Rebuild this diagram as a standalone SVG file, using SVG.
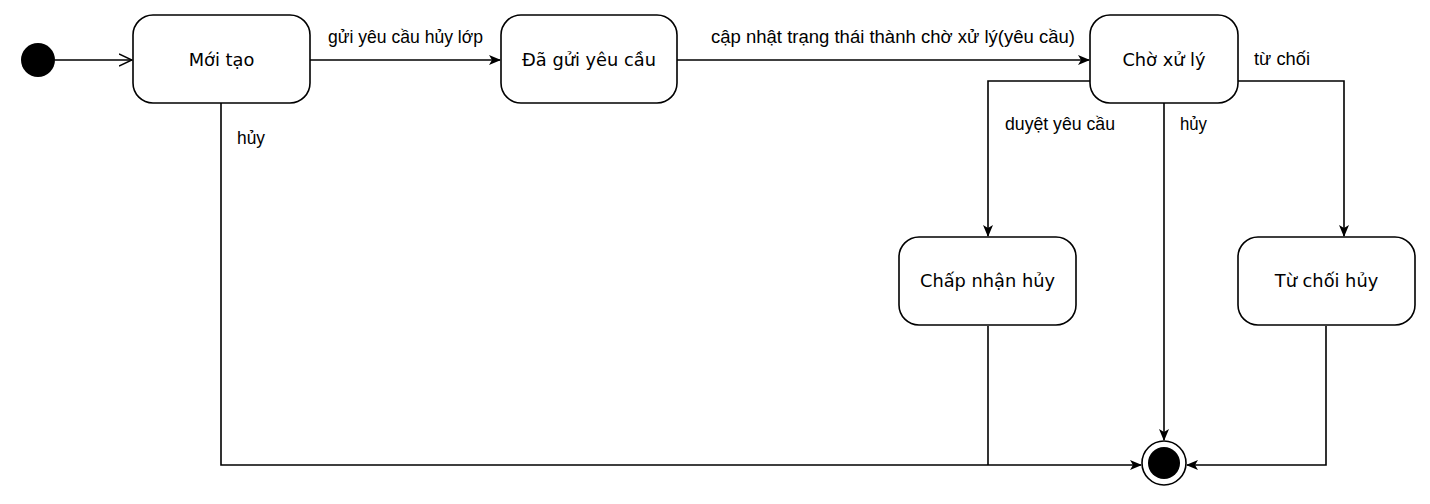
<svg xmlns="http://www.w3.org/2000/svg" width="1430" height="504" viewBox="0 0 1430 504">
<style>
.node rect{fill:#fff;stroke:#000;stroke-width:1.6}
.nt{font-family:"DejaVu Sans",Verdana,sans-serif;font-size:17.8px;fill:#000;text-anchor:middle;dominant-baseline:central}
.el{font-family:"Liberation Sans",Arial,sans-serif;font-size:17.5px;fill:#000}
.edge{fill:none;stroke:#000;stroke-width:1.6}
</style>
<defs>
<marker id="arr" viewBox="0 0 12 10" refX="11" refY="5" markerWidth="12" markerHeight="10" markerUnits="userSpaceOnUse" orient="auto">
<path d="M0,0 L12,5 L0,10 L3,5 Z" fill="#000"/>
</marker>
<marker id="open" viewBox="0 0 14 14" refX="13" refY="7" markerWidth="14" markerHeight="14" markerUnits="userSpaceOnUse" orient="auto">
<path d="M0,1 L13,7 L0,13" fill="none" stroke="#000" stroke-width="1.5"/>
</marker>
</defs>
<g id="edges">
<path class="edge" d="M55,60 L132,60" marker-end="url(#open)"/>
<path class="edge" d="M310,60 L500,60" marker-end="url(#arr)"/>
<path class="edge" d="M677,60 L1089,60" marker-end="url(#arr)"/>
<path class="edge" d="M1090,81 L988,81 L988,236" marker-end="url(#arr)"/>
<path class="edge" d="M1238,81 L1344,81 L1344,236" marker-end="url(#arr)"/>
<path class="edge" d="M1164,103 L1164,440" marker-end="url(#arr)"/>
<path class="edge" d="M221,103 L221,465 L1141,465" marker-end="url(#arr)" stroke-width="2"/>
<path class="edge" d="M988,326 L988,465"/>
<path class="edge" d="M1326,326 L1326,465 L1187,465" marker-end="url(#arr)" stroke-width="2"/>
<text class="el" x="328" y="43" textLength="155" lengthAdjust="spacingAndGlyphs">gửi yêu cầu hủy lớp</text>
<text class="el" x="711" y="43" textLength="364" lengthAdjust="spacingAndGlyphs">cập nhật trạng thái thành chờ xử lý(yêu cầu)</text>
<text class="el" x="1254" y="65" textLength="56" lengthAdjust="spacingAndGlyphs">từ chối</text>
<text class="el" x="1005" y="130" textLength="110" lengthAdjust="spacingAndGlyphs">duyệt yêu cầu</text>
<text class="el" x="1180" y="130" textLength="27" lengthAdjust="spacingAndGlyphs">hủy</text>
<text class="el" x="237" y="144" textLength="28" lengthAdjust="spacingAndGlyphs">hủy</text>
</g>
<g id="start"><circle cx="38" cy="60" r="17" fill="#000"/></g>
<g id="n1" class="node"><rect x="133" y="15" width="177" height="88" rx="20"/><text class="nt" x="221.5" y="59">Mới tạo</text></g>
<g id="n2" class="node"><rect x="501" y="15" width="176" height="88" rx="20"/><text class="nt" x="589" y="59">Đã gửi yêu cầu</text></g>
<g id="n3" class="node"><rect x="1090" y="15" width="148" height="88" rx="20"/><text class="nt" x="1164" y="59">Chờ xử lý</text></g>
<g id="n4" class="node"><rect x="899" y="237" width="177" height="88" rx="20"/><text class="nt" x="987.5" y="280">Chấp nhận hủy</text></g>
<g id="n5" class="node"><rect x="1238" y="237" width="177" height="88" rx="20"/><text class="nt" x="1326.5" y="280">Từ chối hủy</text></g>
<g id="end"><circle cx="1164" cy="463" r="22" fill="#fff" stroke="#000" stroke-width="1.6"/><circle cx="1164" cy="463" r="16" fill="#000"/></g>
</svg>
